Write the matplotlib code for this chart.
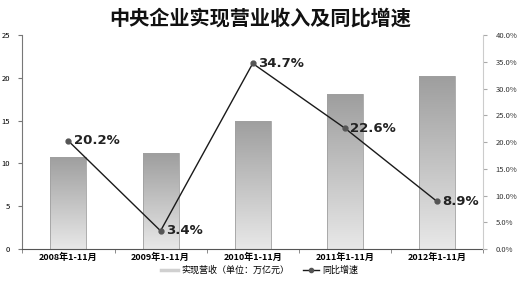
import matplotlib
matplotlib.use("Agg")
import matplotlib.pyplot as plt
import numpy as np
from matplotlib.colors import LinearSegmentedColormap
from matplotlib.lines import Line2D
from matplotlib.ticker import FuncFormatter, MultipleLocator

plt.rcParams["font.family"] = ["Noto Sans CJK SC", "DejaVu Sans"]

# data
categories = ["2008年1-11月", "2009年1-11月", "2010年1-11月", "2011年1-11月", "2012年1-11月"]
revenue = [10.8, 11.2, 15.0, 18.1, 20.2]      # 万亿元
growth = [20.2, 3.4, 34.7, 22.6, 8.9]         # %

fig = plt.figure(figsize=(5.2, 2.83), dpi=100)
ax = fig.add_axes([0.043, 0.12, 0.886, 0.756])
ax2 = ax.twinx()

x = np.arange(len(categories))
bars = ax.bar(x, revenue, width=0.39, color="none", edgecolor="#a0a0a0",
              linewidth=0.6, zorder=2)

# vertical gray gradient inside each bar (darker top, light bottom)
bar_cmap = LinearSegmentedColormap.from_list("bargrey", ["#e8e8e8", "#9e9e9e"])
grad = np.linspace(0, 1, 256).reshape(-1, 1)
for b in bars:
    x0, w, h = b.get_x(), b.get_width(), b.get_height()
    im = ax.imshow(grad, extent=[x0, x0 + w, 0, h], origin="lower",
                   aspect="auto", cmap=bar_cmap, vmin=0, vmax=1, zorder=1)
    im.set_clip_path(b)

ax.set_xlim(-0.5, len(categories) - 0.5)
ax.set_ylim(0, 25)
ax.yaxis.set_major_locator(MultipleLocator(5))
ax.set_xticks(x)
ax.set_xticklabels(categories, fontsize=6.5, fontweight="bold")
ax.set_xticks(np.arange(-0.5, len(categories)), minor=True)
ax.tick_params(axis="x", which="major", length=0, pad=3)
ax.tick_params(axis="x", which="minor", length=3, color="#777777")
ax.tick_params(axis="y", labelsize=5.5, length=3, color="#777777", pad=6)

ax2.plot(x, growth, color="#1a1a1a", linewidth=1.0, marker="o",
         markersize=3.5, markerfacecolor="#555555", markeredgecolor="#555555",
         zorder=3)
for xi, g in zip(x, growth):
    ax2.annotate(f"{g:.1f}%", xy=(xi, g), xytext=(4, 0),
                 textcoords="offset points", ha="left", va="center",
                 fontsize=9.5, fontweight="bold", color="#222222",
                 family=["DejaVu Sans"])
ax2.set_ylim(0, 40)
ax2.yaxis.set_major_locator(MultipleLocator(5))
ax2.yaxis.set_major_formatter(FuncFormatter(lambda v, _: f"{v:.1f}%"))
ax2.tick_params(axis="y", labelsize=5.5, length=3, color="#aaaaaa", pad=6,
                labelcolor="#333333")

for a in (ax, ax2):
    a.spines["top"].set_visible(False)
ax.spines["right"].set_visible(False)
ax.spines["left"].set_color("#777777")
ax.spines["bottom"].set_color("#555555")
ax2.spines["left"].set_visible(False)
ax2.spines["bottom"].set_visible(False)
ax2.spines["right"].set_color("#cccccc")

fig.text(0.5, 0.935, "中央企业实现营业收入及同比增速", ha="center", va="center",
         fontsize=14.5, fontweight="bold", color="#111111")

handles = [
    Line2D([], [], color="#d0d0d0", linewidth=2.5),
    Line2D([], [], color="#1a1a1a", linewidth=1.0, marker="o", markersize=3,
           markerfacecolor="#555555", markeredgecolor="#555555"),
]
fig.legend(handles, ["实现营收（单位：万亿元）", "同比增速"], loc="center",
           bbox_to_anchor=(0.5, 0.045), ncol=2, frameon=False, fontsize=6.5,
           handlelength=1.8, handletextpad=0.4, columnspacing=1.5)

fig.savefig("out.png", dpi=100)
